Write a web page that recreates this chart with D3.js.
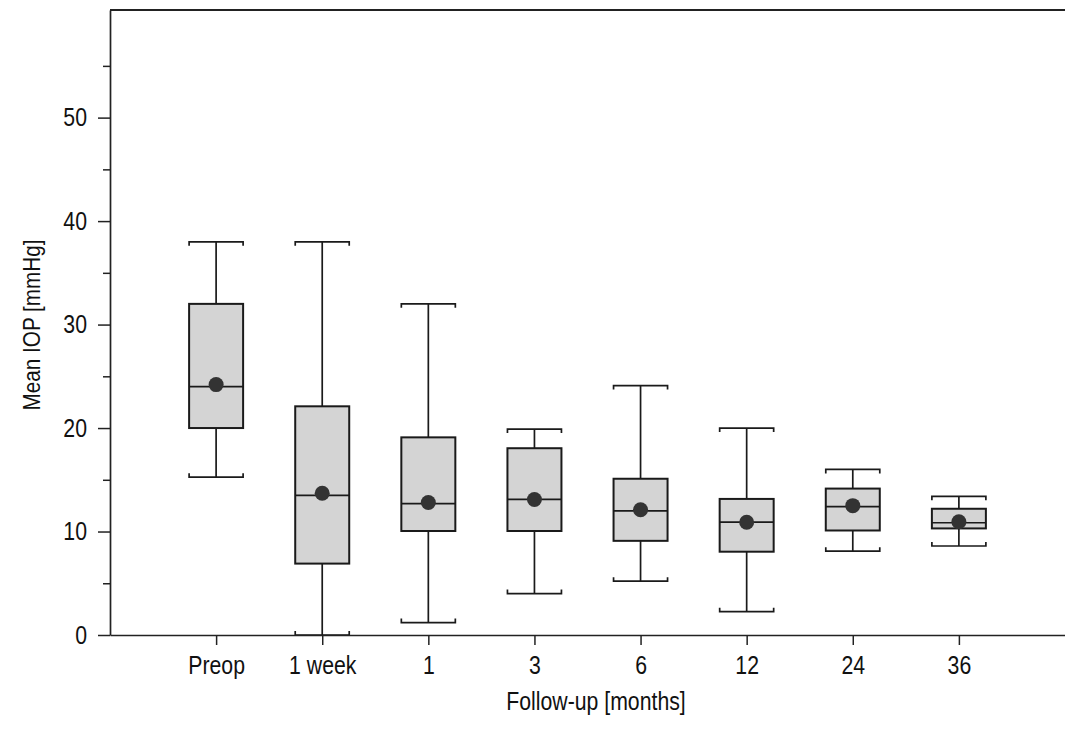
<!DOCTYPE html>
<html>
<head>
<meta charset="utf-8">
<script src="https://cdn.jsdelivr.net/npm/d3@7"></script>
<style>
  body { margin: 0; background: #fff; }
  text { font-family: "Liberation Sans", Arial, sans-serif; }
</style>
</head>
<body>
<script>
// values
var groups  = ["Preop", "1 week", "1", "3", "6", "12", "24", "36"];
var whiskLo = [15.25, 0, 1.2, 4.0, 5.2, 2.25, 8.1, 8.6];
var q1      = [20.0, 6.9, 10.05, 10.05, 9.1, 8.05, 10.1, 10.3];
var median  = [24.0, 13.5, 12.7, 13.1, 12.0, 10.9, 12.4, 10.85];
var q3      = [32.0, 22.1, 19.1, 18.05, 15.1, 13.15, 14.15, 12.2];
var whiskHi = [38.0, 38.0, 32.0, 19.9, 24.1, 20.0, 16.0, 13.4];
var means   = [24.2, 13.7, 12.8, 13.1, 12.1, 10.9, 12.5, 10.95];
var yMajor  = [0, 10, 20, 30, 40, 50];
var yMinor  = [5, 15, 25, 35, 45, 55];

var data = groups.map(function(g, i) {
    return {g: g, lo: whiskLo[i], q1: q1[i], med: median[i], q3: q3[i], hi: whiskHi[i], mean: means[i]};
});

var margin = {top: 10, right: 0, bottom: 100, left: 110},
    width = 1065 - margin.left - margin.right,
    height = 735 - margin.top - margin.bottom;

var narrow = 0.85; // the original font is a condensed one

var svg = d3.select("body").append("svg")
    .attr("width", 1065)
    .attr("height", 735)
  .append("g")
    .attr("transform", "translate(" + margin.left + "," + margin.top + ")");

var x = d3.scalePoint()
    .domain(groups)
    .range([0, width])
    .padding(1);

var y = d3.scaleLinear()
    .domain([0, 60.4])
    .range([height, 0]);

var boxW = 54, serif = 4;

// frame: top line
svg.append("line")
    .attr("x1", 0).attr("x2", width)
    .attr("y1", 0).attr("y2", 0)
    .style("stroke", "#222").style("stroke-width", 2);

// boxes
var box = svg.selectAll(".box")
    .data(data)
    .enter().append("g")
    .attr("class", "box")
    .attr("transform", function(d) { return "translate(" + x(d.g) + ",0)"; });

box.append("line")
    .attr("y1", function(d) { return y(d.hi); })
    .attr("y2", function(d) { return y(d.lo); })
    .style("stroke", "#1a1a1a").style("stroke-width", 1.7);

// caps with small end serifs
[["hi", 1], ["lo", -1]].forEach(function(c) {
    box.append("path")
        .attr("d", function(d) {
            var yy = y(d[c[0]]), s = c[1] * serif;
            return "M" + (-boxW / 2) + "," + (yy + s) + "V" + yy + "H" + (boxW / 2) + "V" + (yy + s);
        })
        .style("fill", "none").style("stroke", "#1a1a1a").style("stroke-width", 1.7);
});

box.append("rect")
    .attr("x", -boxW / 2)
    .attr("width", boxW)
    .attr("y", function(d) { return y(d.q3); })
    .attr("height", function(d) { return y(d.q1) - y(d.q3); })
    .style("fill", "#d4d4d4")
    .style("stroke", "#1a1a1a").style("stroke-width", 2);

box.append("line")
    .attr("x1", -boxW / 2).attr("x2", boxW / 2)
    .attr("y1", function(d) { return y(d.med); })
    .attr("y2", function(d) { return y(d.med); })
    .style("stroke", "#1a1a1a").style("stroke-width", 1.7);

box.append("circle")
    .attr("r", 7.5)
    .attr("cy", function(d) { return y(d.mean); })
    .style("fill", "#333");

// squeeze tick labels horizontally
function condense(sel) {
    sel.each(function() {
        var t = d3.select(this);
        t.attr("x", (+t.attr("x") || 0) / narrow)
         .attr("transform", "scale(" + narrow + ",1)");
    });
}

// y axis
svg.append("g")
    .call(d3.axisLeft(y).tickValues(yMinor).tickSize(7).tickFormat(""))
    .call(function(g) { g.select(".domain").remove(); })
    .selectAll("line").style("stroke", "#222").style("stroke-width", 1.5);

var yAxis = svg.append("g")
    .call(d3.axisLeft(y).tickValues(yMajor).tickSize(12).tickPadding(11).tickSizeOuter(0));
yAxis.select(".domain").style("stroke", "#222").style("stroke-width", 1.7);
yAxis.selectAll("line").style("stroke", "#222").style("stroke-width", 1.5);
yAxis.selectAll("text").style("font-size", "25px").style("fill", "#111").call(condense);

// x axis
var xAxis = svg.append("g")
    .attr("transform", "translate(0," + height + ")")
    .call(d3.axisBottom(x).tickSize(10).tickPadding(11).tickSizeOuter(0));
xAxis.select(".domain").style("stroke", "#222").style("stroke-width", 1.7);
xAxis.selectAll("line").style("stroke", "#222").style("stroke-width", 1.5);
xAxis.selectAll("text").style("font-size", "25px").style("fill", "#111").call(condense);

// axis titles
svg.append("text")
    .attr("transform", "translate(" + 486 + "," + (height + 75) + ") scale(" + narrow + ",1)")
    .style("text-anchor", "middle")
    .style("font-size", "25px")
    .style("fill", "#111")
    .text("Follow-up [months]");

svg.append("text")
    .attr("transform", "translate(-70,315) rotate(-90) scale(0.9,1)")
    .style("text-anchor", "middle")
    .style("font-size", "23px")
    .style("fill", "#111")
    .text("Mean IOP [mmHg]");
</script>
</body>
</html>
